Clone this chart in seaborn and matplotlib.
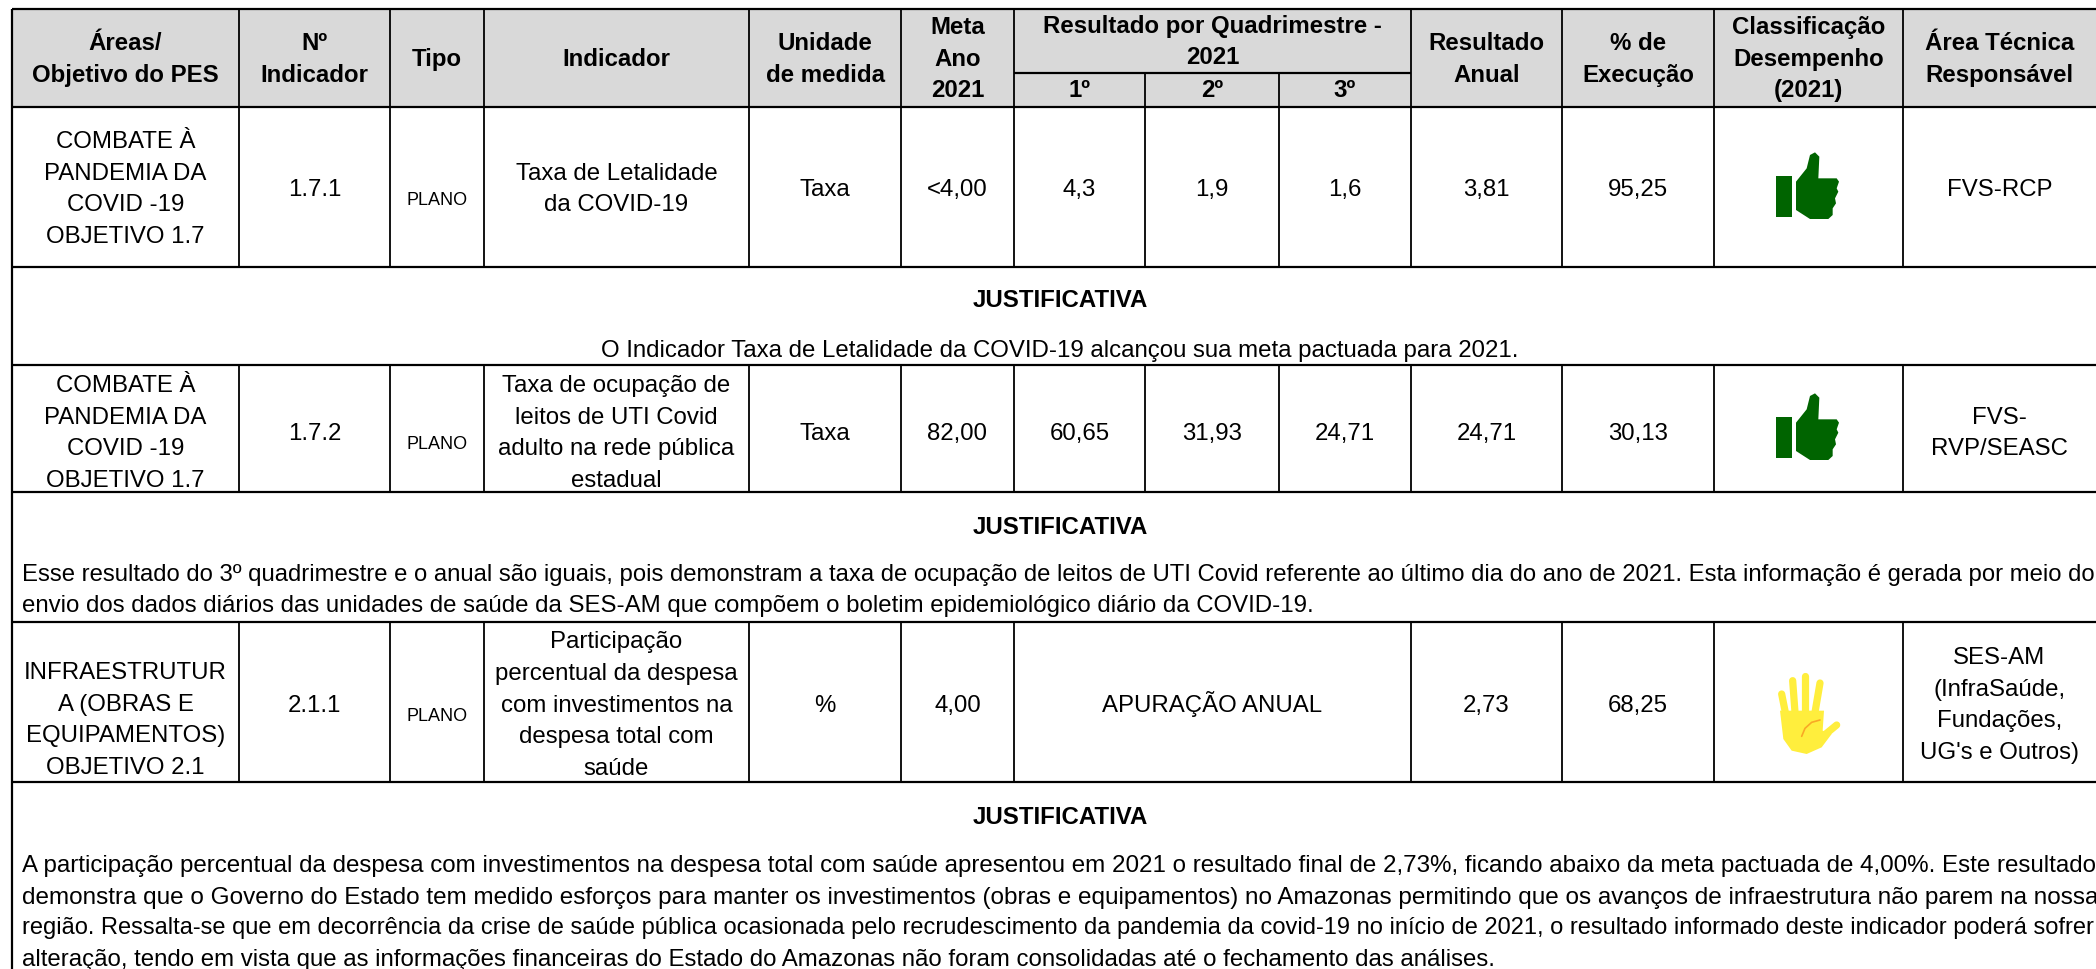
import matplotlib
matplotlib.use('Agg')
import matplotlib.pyplot as plt
from matplotlib.patches import Polygon, Rectangle
import seaborn as sns

# -------------------------------------------------------------------------
# DATI DELLA TABELLA
# -------------------------------------------------------------------------
cabecalho = ['Áreas/\nObjetivo do PES', 'Nº\nIndicador', 'Tipo', 'Indicador', 'Unidade\nde medida',
             'Meta\nAno\n2021']
cabecalho_dir = ['Resultado\nAnual', '% de\nExecução', 'Classificação\nDesempenho\n(2021)',
                 'Área Técnica\nResponsável']
quadrimestres = ['1º', '2º', '3º']
titulo_quad = 'Resultado por Quadrimestre -\n2021'

areas = ['COMBATE À\nPANDEMIA DA\nCOVID -19\nOBJETIVO 1.7',
         'COMBATE À\nPANDEMIA DA\nCOVID -19\nOBJETIVO 1.7',
         'INFRAESTRUTUR\nA (OBRAS E\nEQUIPAMENTOS)\nOBJETIVO 2.1']
numeros = ['1.7.1', '1.7.2', '2.1.1']
tipos = ['PLANO', 'PLANO', 'PLANO']
indicadores = ['Taxa de Letalidade\nda COVID-19',
               'Taxa de ocupação de\nleitos de UTI Covid\nadulto na rede pública\nestadual',
               'Participação\npercentual da despesa\ncom investimentos na\ndespesa total com\nsaúde']
unidades = ['Taxa', 'Taxa', '%']
metas = ['<4,00', '82,00', '4,00']
q1 = ['4,3', '60,65']
q2 = ['1,9', '31,93']
q3 = ['1,6', '24,71']
apuracao = 'APURAÇÃO ANUAL'
anual = ['3,81', '24,71', '2,73']
execucao = ['95,25', '30,13', '68,25']
responsaveis = ['FVS-RCP', 'FVS-\nRVP/SEASC', "SES-AM\n(InfraSaúde,\nFundações,\nUG's e Outros)"]

just1 = ['O Indicador Taxa de Letalidade da COVID-19 alcançou sua meta pactuada para 2021.']
just2 = ['Esse resultado do 3º quadrimestre e o anual são iguais, pois demonstram a taxa de ocupação de leitos de UTI Covid referente ao último dia do ano de 2021. Esta informação é gerada por meio do',
         'envio dos dados diários das unidades de saúde da SES-AM que compõem o boletim epidemiológico diário da COVID-19.']
just3 = ['A participação percentual da despesa com investimentos na despesa total com saúde apresentou em 2021 o resultado final de 2,73%, ficando abaixo da meta pactuada de 4,00%. Este resultado',
         'demonstra que o Governo do Estado tem medido esforços para manter os investimentos (obras e equipamentos) no Amazonas permitindo que os avanços de infraestrutura não parem na nossa',
         'região. Ressalta-se que em decorrência da crise de saúde pública ocasionada pelo recrudescimento da pandemia da covid-19 no início de 2021, o resultado informado deste indicador poderá sofrer',
         'alteração, tendo em vista que as informações financeiras do Estado do Amazonas não foram consolidadas até o fechamento das análises.']

# -------------------------------------------------------------------------
# GEOMETRIA (pixel)
# -------------------------------------------------------------------------
COLS = [12, 239, 390, 484, 749, 901, 1014, 1145, 1279, 1411, 1562, 1714, 1903, 2096]
TOP, SUB, HEAD = 10, 74, 108
R1, J1, R2, J2, R3 = 268, 366, 493, 623, 783
FS = 24.0       # px
STEP = 31.7
CENTRO_J = 1060
MARGINE_J = 22
DESTRA_J = 2095
GRIGIO = '#d9d9d9'

sns.set_theme(style='white')
plt.rcParams['font.family'] = ['Liberation Sans', 'DejaVu Sans']

fig = plt.figure(figsize=(20.96, 9.70), dpi=100)
ax = fig.add_axes([0, 0, 1, 1])
ax.set_xlim(0, 2096)
ax.set_ylim(970, 0)
ax.axis('off')
renderer = fig.canvas.get_renderer()


def centro(i, j=None):
    j = i + 1 if j is None else j
    return (COLS[i] + COLS[j]) / 2


def scrivi(x, yc, testo, px=FS, bold=False, ha='center', step=STEP):
    righe = testo.split('\n')
    for n, riga in enumerate(righe):
        y = yc + (n - (len(righe) - 1) / 2) * step + 0.36 * px
        ax.text(x, y, riga, fontsize=px * 0.72, fontweight='bold' if bold else 'normal',
                ha=ha, va='baseline', color='black')


def scrivi_giustificato(yc, riga):
    # il testo originale e' giustificato: adatto il corpo fino al bordo destro
    t = ax.text(MARGINE_J, yc + 0.36 * FS, riga, fontsize=FS * 0.72, ha='left', va='baseline', color='black')
    larghezza = t.get_window_extent(renderer).width
    t.set_fontsize(FS * 0.72 * (DESTRA_J - MARGINE_J) / larghezza)


# sfondo intestazione
ax.add_patch(Rectangle((COLS[0], TOP), COLS[-1] - COLS[0], HEAD - TOP, color=GRIGIO, lw=0, zorder=0))

# linee
for y in [TOP, HEAD, R1, J1, R2, J2, R3]:
    ax.hlines(y, COLS[0], 2096, color='black', lw=1.6, zorder=3)
ax.hlines(SUB, COLS[6], COLS[9], color='black', lw=1.6, zorder=3)
ax.vlines(COLS[0], TOP, 970, color='black', lw=1.6, zorder=3)
for x in COLS[1:13]:
    for a, b in [(TOP, R1), (J1, R2), (J2, R3)]:
        if x in (COLS[7], COLS[8]) and a == TOP:
            a = SUB
        if x in (COLS[7], COLS[8]) and a == J2:
            continue
        ax.vlines(x, a, b, color='black', lw=1.3, zorder=3)

# intestazione
for i, t in enumerate(cabecalho):
    yc = 57 if t.count('\n') == 2 else 57.5
    scrivi(centro(i), yc, t, bold=True)
scrivi(centro(6, 9), 40, titulo_quad, bold=True)
for i, t in enumerate(quadrimestres):
    scrivi(centro(6 + i), 88, t, bold=True)
for i, t in enumerate(cabecalho_dir):
    yc = 57 if t.count('\n') == 2 else 57.5
    scrivi(centro(9 + i), yc, t, bold=True)

# righe dati
centri = [187, 431, 703]
for k, yc in enumerate(centri):
    dy = 15 if k == 2 else 0
    scrivi(centro(0), yc + dy, areas[k])
    scrivi(centro(1), yc, numeros[k])
    scrivi(centro(2), yc + 12, tipos[k], px=18)
    scrivi(centro(3), yc, indicadores[k])
    scrivi(centro(4), yc, unidades[k])
    scrivi(centro(5), yc, metas[k])
    if k < 2:
        scrivi(centro(6), yc, q1[k])
        scrivi(centro(7), yc, q2[k])
        scrivi(centro(8), yc, q3[k])
    else:
        scrivi(centro(6, 9), yc, apuracao)
    scrivi(centro(9), yc, anual[k])
    scrivi(centro(10), yc, execucao[k])
    scrivi(centro(12), yc, responsaveis[k])

# giustificative
scrivi(CENTRO_J, 298, 'JUSTIFICATIVA', bold=True)
scrivi(CENTRO_J, 348, just1[0])
scrivi(CENTRO_J, 525, 'JUSTIFICATIVA', bold=True)
scrivi_giustificato(572, just2[0])
scrivi(MARGINE_J, 603, just2[1], ha='left')
scrivi(CENTRO_J, 815, 'JUSTIFICATIVA', bold=True)
for riga, y in zip(just3[:3], [863, 895, 925]):
    scrivi_giustificato(y, riga)
scrivi(MARGINE_J, 957, just3[3], ha='left')


# icone
def pollice(ox, oy):
    verde = '#006400'
    ax.add_patch(Rectangle((ox, oy), 16, 41, color=verde, lw=0, zorder=4))
    punti = [(468, 185), (500, 145), (510, 105), (525, 97), (538, 110), (535, 175), (590, 175), (597, 185),
             (590, 205), (595, 215), (585, 235), (588, 250), (578, 265), (578, 285), (565, 297), (510, 297),
             (468, 270)]
    ax.add_patch(Polygon([(ox + (a - 408) / 3, oy + (b - 168) / 3) for a, b in punti], color=verde, lw=0, zorder=4))


def mano(ox, oy):
    giallo = '#ffee3d'
    conv = lambda a, b: (ox + a / 3, oy + b / 3)
    dita = [((425, 165), (440, 240)), ((458, 125), (465, 220)), ((496, 112), (496, 220)),
            ((540, 132), (525, 220)), ((590, 258), (545, 295))]
    for p, q in dita:
        (x1, y1), (x2, y2) = conv(*p), conv(*q)
        ax.plot([x1, x2], [y1, y2], color=giallo, lw=5.2, solid_capstyle='round', zorder=4)
    palmo = [(420, 215), (552, 215), (548, 275), (575, 285), (545, 325), (500, 345), (455, 335), (430, 300)]
    ax.add_patch(Polygon([conv(a, b) for a, b in palmo], color=giallo, lw=0, zorder=4))
    arco = [(485, 292), (495, 268), (515, 250), (540, 243)]
    ax.plot(*zip(*[conv(a, b) for a, b in arco]), color='#f9a825', lw=1.2, zorder=5)


pollice(1776, 177)
pollice(1776, 418)
mano(1640, 640)

sns.despine(ax=ax, left=True, bottom=True)
fig.savefig('out.png', dpi=100)
